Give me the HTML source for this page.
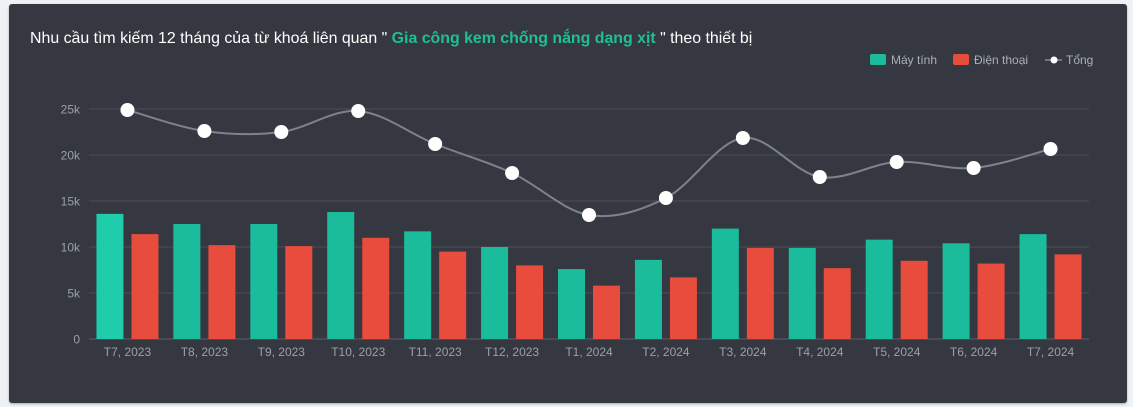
<!DOCTYPE html>
<html><head><meta charset="utf-8">
<style>
html,body{margin:0;padding:0;background:#eef1f5;width:1133px;height:407px;overflow:hidden;font-family:"Liberation Sans",sans-serif}
#panel{position:absolute;left:9px;top:4px;width:1118px;height:399px;background:#353840;border-radius:3px;box-shadow:0 1px 2px rgba(0,0,0,.3)}
svg{position:absolute;left:0;top:0}
</style></head><body>
<div id="panel"></div>
<svg id="s" width="1133" height="407" xmlns="http://www.w3.org/2000/svg" font-family="Liberation Sans, sans-serif">
<text x="30" y="43" font-size="15.9" fill="#ffffff">Nhu cầu tìm kiếm 12 tháng của từ khoá liên quan " <tspan fill="#1fc08f" font-weight="bold">Gia công kem chống nắng dạng xịt</tspan> " theo thiết bị</text>
<rect x="870" y="54" width="16" height="11" rx="2" fill="#1abc9c"/>
<text x="891" y="64" font-size="12" fill="#aab0b8">Máy tính</text>
<rect x="953" y="54" width="16" height="11" rx="2" fill="#e74c3c"/>
<text x="974" y="64" font-size="12" fill="#aab0b8">Điện thoại</text>
<line x1="1045" y1="60" x2="1062" y2="60" stroke="#aab0b8" stroke-width="1"/>
<circle cx="1054" cy="60" r="3.5" fill="#fff"/>
<text x="1066" y="64" font-size="12" fill="#aab0b8">Tổng</text>
<g id="g"></g>
</svg>
<script>
var g=document.getElementById('g'),h='';
var y0=339,k=9.2,x0=89,w=1000/13;
[0,5,10,15,20,25].forEach(function(v){var y=y0-v*k;
h+='<line x1="'+x0+'" x2="1089" y1="'+y+'" y2="'+y+'" stroke="'+(v?'#4a4e57':'#5a5e66')+'" stroke-width="1"/>';
h+='<text x="80" y="'+(y+4.5)+'" font-size="12" fill="#9aa0a8" text-anchor="end">'+(v?v+'k':'0')+'</text>';});
var G=[13.6,12.5,12.5,13.8,11.7,10,7.6,8.6,12,9.9,10.8,10.4,11.4];
var R=[11.4,10.2,10.1,11,9.5,8,5.8,6.7,9.9,7.7,8.5,8.2,9.2];
var T=[110,131,132,111,144,173,215,198,138,177,162,168,149];
var L=['T7, 2023','T8, 2023','T9, 2023','T10, 2023','T11, 2023','T12, 2023','T1, 2024','T2, 2024','T3, 2024','T4, 2024','T5, 2024','T6, 2024','T7, 2024'];
var P=[];
for(var i=0;i<13;i++){var c=x0+w*(i+.5);
var gh=G[i]*k,rh=R[i]*k;
h+='<rect x="'+(c-31)+'" y="'+(y0-gh)+'" width="27" height="'+gh+'" fill="'+(i==0?'#1fcdac':'#1abc9c')+'"/>';
h+='<rect x="'+(c+4)+'" y="'+(y0-rh)+'" width="27" height="'+rh+'" fill="#e74c3c"/>';
h+='<text x="'+c+'" y="356" font-size="12" fill="#9aa0a8" text-anchor="middle">'+L[i]+'</text>';
P.push([c,T[i]]);}
var d='M'+P[0][0]+','+P[0][1];
for(var i=0;i<12;i++){var p0=P[Math.max(i-1,0)],p1=P[i],p2=P[i+1],p3=P[Math.min(i+2,12)];
var t=0.5/3;
d+=' C'+(p1[0]+(p2[0]-p0[0])*t)+','+(p1[1]+(p2[1]-p0[1])*t)+' '+(p2[0]-(p3[0]-p1[0])*t)+','+(p2[1]-(p3[1]-p1[1])*t)+' '+p2[0]+','+p2[1];}
h+='<path d="'+d+'" fill="none" stroke="#7d828b" stroke-width="2"/>';
P.forEach(function(p){h+='<circle cx="'+p[0]+'" cy="'+p[1]+'" r="7" fill="#fff"/>';});
g.innerHTML=h;
</script>
</body></html>
